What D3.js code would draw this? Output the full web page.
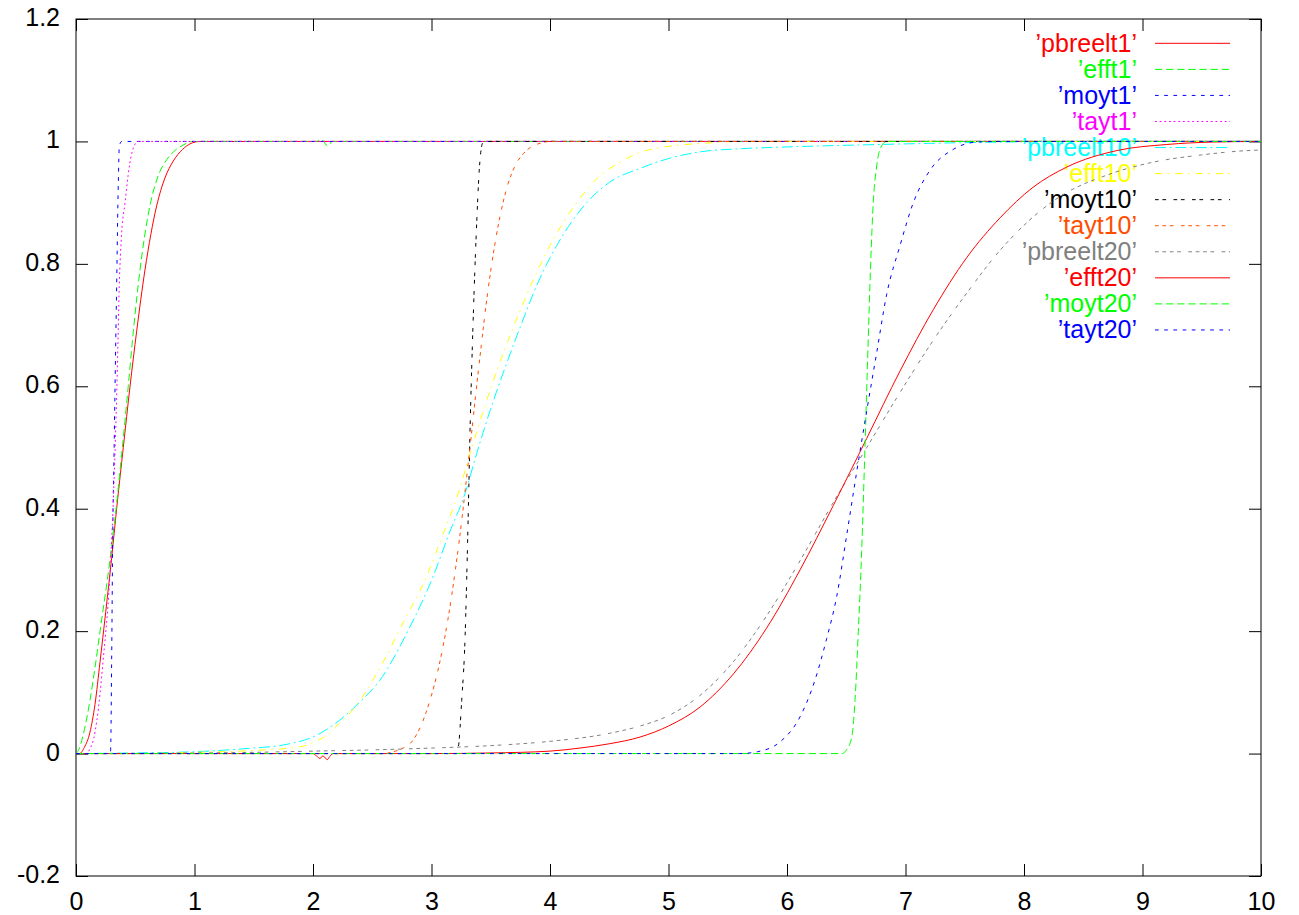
<!DOCTYPE html>
<html>
<head>
<meta charset="utf-8">
<script src="https://cdn.jsdelivr.net/npm/d3@7"></script>
<style>
  html, body { margin: 0; padding: 0; background: #ffffff; }
  svg { display: block; }
  text { font-family: "Liberation Sans", Arial, Helvetica, sans-serif; }
</style>
</head>
<body>
<svg id="chart" width="1299" height="915"></svg>
<script>
// ---------------- data ----------------
const seriesNames = ["pbreelt1","efft1","moyt1","tayt1","pbreelt10","efft10","moyt10","tayt10","pbreelt20","efft20","moyt20","tayt20"];

const xTickValues = [0,1,2,3,4,5,6,7,8,9,10];
const xTickLabels = ["0","1","2","3","4","5","6","7","8","9","10"];
const yTickValues = [-0.2,0,0.2,0.4,0.6,0.8,1,1.2];
const yTickLabels = ["-0.2","0","0.2","0.4","0.6","0.8","1","1.2"];

const pbreelt1 = [[0,0],[0.03,0],[0.07,0.01],[0.118,0.035],[0.16,0.08],[0.203,0.15],[0.25,0.23],[0.301,0.32],[0.343,0.4],[0.399,0.5],[0.456,0.6],[0.512,0.69],[0.582,0.79],[0.681,0.895],[0.75,0.94],[0.821,0.968],[0.9,0.987],[0.962,0.996],[1.046,1],[10,1]];
const efft1 = [[0,0],[0.02,0.005],[0.06,0.03],[0.118,0.087],[0.16,0.14],[0.203,0.2],[0.287,0.317],[0.338,0.4],[0.386,0.49],[0.441,0.6],[0.484,0.69],[0.54,0.79],[0.624,0.895],[0.69,0.942],[0.765,0.97],[0.84,0.986],[0.903,0.994],[0.987,1],[2.03,1],[2.07,1.003],[2.09,1],[2.12,0.993],[2.14,0.995],[2.16,1],[10,1]];
const moyt1 = [[0,0],[0.29,0],[0.293,0.01],[0.301,0.154],[0.31,0.357],[0.321,0.49],[0.329,0.594],[0.343,0.763],[0.357,0.932],[0.366,0.993],[0.386,1],[10,1]];
const tayt1 = [[0,0],[0.09,0],[0.118,0.008],[0.15,0.025],[0.175,0.053],[0.23,0.154],[0.293,0.317],[0.329,0.49],[0.349,0.628],[0.365,0.763],[0.385,0.85],[0.414,0.9],[0.44,0.945],[0.47,0.98],[0.523,1],[10,1]];
const pbreelt10 = [[0,0],[0.5,0.001],[1.0,0.003],[1.468,0.0087],[1.749,0.014],[2.031,0.03],[2.228,0.055],[2.4,0.085],[2.565,0.12],[2.8,0.2],[3.015,0.29],[3.15,0.36],[3.283,0.425],[3.381,0.49],[3.494,0.56],[3.62,0.63],[3.747,0.696],[3.9,0.77],[4.057,0.83],[4.31,0.9],[4.5,0.933],[4.76,0.956],[5.0,0.972],[5.266,0.983],[5.6,0.988],[6.0,0.991],[6.785,0.995],[7.5,0.998],[8.5,1],[10,1]];
const efft10 = [[0,0],[0.5,0],[1,0.002],[1.5,0.005],[1.89,0.011],[2.0,0.018],[2.116,0.03],[2.2,0.045],[2.35,0.075],[2.565,0.14],[2.75,0.21],[2.96,0.29],[3.1,0.36],[3.226,0.425],[3.325,0.49],[3.437,0.56],[3.56,0.63],[3.69,0.696],[3.85,0.77],[4.0,0.83],[4.225,0.9],[4.4,0.94],[4.591,0.966],[4.76,0.982],[5.0,0.992],[5.3,0.997],[5.6,1],[10,1]];
const moyt10 = [[0,0],[3.21,0],[3.226,0.009],[3.255,0.087],[3.283,0.188],[3.302,0.324],[3.314,0.426],[3.325,0.527],[3.339,0.628],[3.361,0.763],[3.381,0.865],[3.403,0.953],[3.424,0.993],[3.44,1],[10,1]];
const tayt10 = [[0,0],[2.6,0],[2.677,0.003],[2.75,0.008],[2.832,0.019],[2.91,0.045],[2.987,0.087],[3.065,0.145],[3.141,0.222],[3.24,0.357],[3.319,0.49],[3.397,0.628],[3.481,0.763],[3.565,0.865],[3.648,0.932],[3.71,0.962],[3.775,0.98],[3.85,0.992],[3.916,0.997],[4.0,1],[10,1]];
const pbreelt20 = [[0,0],[1.0,0.001],[1.5,0.002],[2.0,0.004],[2.5,0.006],[3.0,0.009],[3.5,0.013],[4.0,0.02],[4.5,0.033],[4.76,0.045],[5.0,0.062],[5.266,0.095],[5.547,0.15],[5.828,0.225],[6.11,0.315],[6.39,0.41],[6.673,0.5],[6.954,0.59],[7.234,0.675],[7.516,0.752],[7.797,0.822],[8.05,0.872],[8.304,0.91],[8.7,0.945],[9.063,0.965],[9.5,0.978],[9.879,0.985],[10,0.986]];
const efft20 = [[0,0],[2.0,0],[2.03,-0.004],[2.06,-0.008],[2.08,-0.004],[2.1,-0.006],[2.12,-0.01],[2.14,-0.005],[2.17,0],[3.0,0],[3.5,0.001],[4.0,0.004],[4.253,0.009],[4.5,0.016],[4.76,0.027],[5.0,0.045],[5.266,0.076],[5.547,0.13],[5.828,0.205],[6.11,0.3],[6.39,0.405],[6.673,0.515],[6.954,0.625],[7.234,0.725],[7.516,0.81],[7.797,0.875],[8.076,0.925],[8.36,0.958],[8.782,0.985],[9.204,0.995],[9.6,0.999],[10,1]];
const moyt20 = [[0,0],[6.47,0],[6.489,0.003],[6.546,0.026],[6.574,0.087],[6.602,0.2],[6.63,0.33],[6.658,0.5],[6.686,0.68],[6.706,0.8],[6.728,0.9],[6.757,0.96],[6.799,0.993],[6.841,1],[10,1]];
const tayt20 = [[0,0],[5.6,0],[5.75,0.003],[5.941,0.019],[6.11,0.06],[6.236,0.12],[6.335,0.188],[6.419,0.256],[6.504,0.357],[6.588,0.46],[6.673,0.56],[6.757,0.655],[6.841,0.75],[6.954,0.83],[7.066,0.9],[7.207,0.953],[7.403,0.987],[7.601,0.999],[7.8,1],[10,1]];

const seriesData = [pbreelt1, efft1, moyt1, tayt1, pbreelt10, efft10, moyt10, tayt10, pbreelt20, efft20, moyt20, tayt20];

// ---------------- styles ----------------
const colors = ["#ff0000","#00ff00","#0000ff","#ff00ff","#00ffff","#ffff00","#000000","#ff4d00","#808080","#ff0000","#00ff00","#0000ff"];
const dashes = [
  null,
  "7.4,3.7",
  "3.7,5.5",
  "1.85,2.8",
  "11.1,3.7,1.85,3.7",
  "7.3,5.3,1.5,6.2",
  "3.7,3.7,3.7,7.4",
  "3.7,3.7,3.7,3.7,3.7,7.4",
  "3.7,3.7,3.7,3.7,3.7,3.7,3.7,7.4",
  null,
  "7.4,3.7",
  "3.7,5.5"
];

// ---------------- layout ----------------
const L = 76, R = 1261, T = 19, B = 876;
const FS = 25;

const svg = d3.select("#chart");
svg.append("rect").attr("x",0).attr("y",0).attr("width",1299).attr("height",915).attr("fill","#fff");

const x = d3.scaleLinear().domain([0,10]).range([L,R]);
const y = d3.scaleLinear().domain([-0.2,1.2]).range([B,T]);

function styleAxis(g){
  g.select(".domain").remove();
  g.selectAll(".tick line").attr("stroke","#000").attr("stroke-width",1);
  g.selectAll(".tick text").attr("fill","#000").style("font-size",FS+"px").style("font-family","'Liberation Sans', Arial, sans-serif");
}
svg.append("g").attr("transform",`translate(0,${B})`)
  .call(d3.axisBottom(x).tickValues(xTickValues).tickSize(-12).tickPadding(16)
    .tickFormat((d,i)=>xTickLabels[i]))
  .call(styleAxis);
svg.append("g").attr("transform",`translate(0,${T})`)
  .call(d3.axisTop(x).tickValues(xTickValues).tickSize(-12).tickFormat(""))
  .call(styleAxis);
svg.append("g").attr("transform",`translate(${L},0)`)
  .call(d3.axisLeft(y).tickValues(yTickValues).tickSize(-12).tickPadding(16)
    .tickFormat((d,i)=>yTickLabels[i]))
  .call(styleAxis)
  .selectAll(".tick text").attr("dy","0.26em");
svg.append("g").attr("transform",`translate(${R},0)`)
  .call(d3.axisRight(y).tickValues(yTickValues).tickSize(-12).tickFormat(""))
  .call(styleAxis);

svg.append("rect").attr("x",L).attr("y",T).attr("width",R-L).attr("height",B-T)
  .attr("fill","none").attr("stroke","#000").attr("stroke-width",1);

svg.append("clipPath").attr("id","plotclip").append("rect")
  .attr("x",L).attr("y",T).attr("width",R-L).attr("height",B-T);

const line = d3.line().x(d=>x(d[0])).y(d=>y(d[1])).curve(d3.curveMonotoneX);

const legX0 = 1155, legX1 = 1230, legTextX = 1137, legY0 = 43.3, legDY = 26.06;

seriesData.forEach((data,i)=>{
  const ly = legY0 + i*legDY;
  svg.append("text")
    .attr("x",legTextX).attr("y",ly+8.4)
    .attr("text-anchor","end")
    .attr("fill",colors[i])
    .style("font-size",FS+"px")
    .text("\u2019" + seriesNames[i] + "\u2019");
  svg.append("line")
    .attr("x1",legX0).attr("x2",legX1).attr("y1",ly).attr("y2",ly)
    .attr("stroke",colors[i]).attr("stroke-width",1)
    .attr("stroke-dasharray",dashes[i]);
  svg.append("path")
    .datum(data)
    .attr("clip-path","url(#plotclip)")
    .attr("d",line)
    .attr("fill","none")
    .attr("stroke",colors[i]).attr("stroke-width",1)
    .attr("stroke-dasharray",dashes[i]);
});
</script>
</body>
</html>
